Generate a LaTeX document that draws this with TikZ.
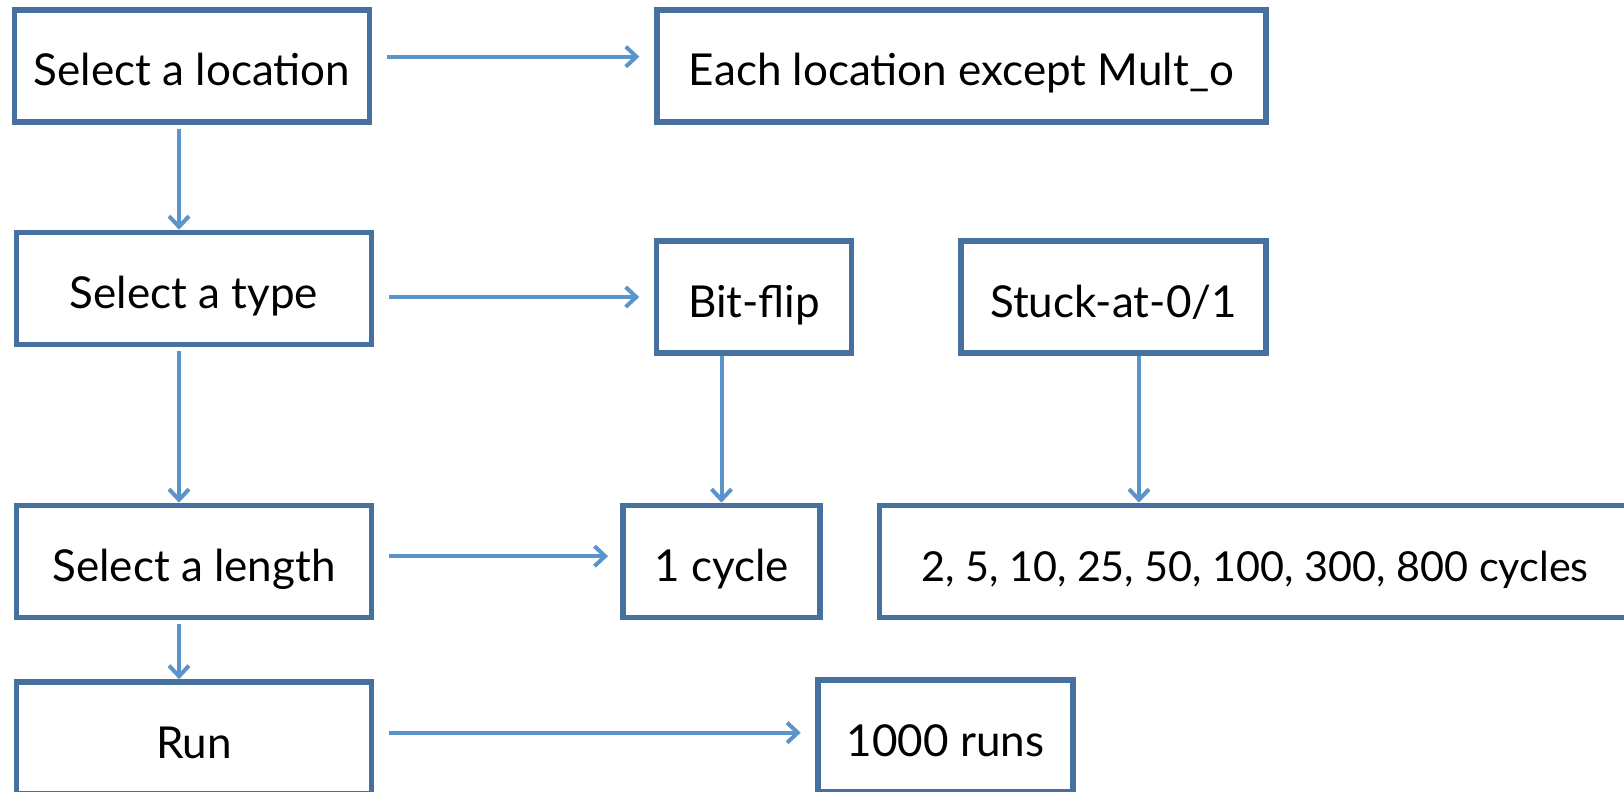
\documentclass[tikz,border=0pt]{standalone}
\usepackage{fontspec}
\setmainfont{Lato}
\usetikzlibrary{arrows.meta}
\definecolor{boxline}{HTML}{46709D}
\definecolor{flowline}{HTML}{5B93CB}
\tikzset{
  stage/.style={draw=boxline, line width=4.2pt, inner sep=0pt,
    text height=30pt, text depth=0pt,
    minimum height=84pt, font=\fontsize{33}{38}\selectfont},
  flow/.style={draw=flowline, line width=3pt,
    -{Straight Barb[length=8pt,width=15pt,line width=3pt]}},
}

\begin{document}
\begin{tikzpicture}[x=0.75pt,y=-0.75pt]
    \useasboundingbox (0,0) rectangle (1624,792);
    \node[stage, minimum width=266pt] (loc) at (192,66) {Select a location};
    \node[stage, minimum width=457pt] (each) at (961.5,66) {Each location except Mult\_o};
    \node[stage, minimum width=266pt] (type) at (194,288.5) {Select a type};
    \node[stage, minimum width=146pt] (flip) at (754,297) {Bit-flip};
    \node[stage, minimum width=229pt] (stuck) at (1113.5,297) {Stuck-at-0/1};
    \node[stage, minimum width=266pt] (len) at (194,561.5) {Select a length};
    \node[stage, minimum width=148pt] (one) at (721.5,561.5) {1 cycle};
    \node[stage, minimum width=563pt, font=\fontsize{31}{36}\selectfont] (many) at (1255,561.5) {2, 5, 10, 25, 50, 100, 300, 800 cycles};
    \node[stage, minimum width=266pt] (run) at (194,738) {Run};
    \node[stage, minimum width=191pt] (runs) at (945.5,736) {1000 runs};
    \coordinate (spine) at (179,0);
    \coordinate (drop) at (1139,0);

    \draw[flow, shorten <=11pt, shorten >=11pt] ([yshift=7pt]loc.east) -- ([yshift=7pt]loc.east -| each.west);
    \draw[flow, shorten <=11pt, shorten >=11pt] (type.east |- flip) -- (flip.west);
    \draw[flow, shorten <=11pt, shorten >=9pt] ([yshift=4pt]len.east) -- ([yshift=4pt]len.east -| one.west);
    \draw[flow, shorten <=11pt, shorten >=11pt] ([yshift=4pt]run.east) -- ([yshift=4pt]run.east -| runs.west);
    \draw[flow, shorten <=3pt] (loc.south -| spine) -- (type.north -| spine);
    \draw[flow, shorten <=3pt] (type.south -| spine) -- (len.north -| spine);
    \draw[flow, shorten <=3pt] (len.south -| spine) -- (run.north -| spine);
    \draw[flow] (flip.south -| one) -- (one.north);
    \draw[flow] (stuck.south -| drop) -- (many.north -| drop);
  \end{tikzpicture}
\end{document}
